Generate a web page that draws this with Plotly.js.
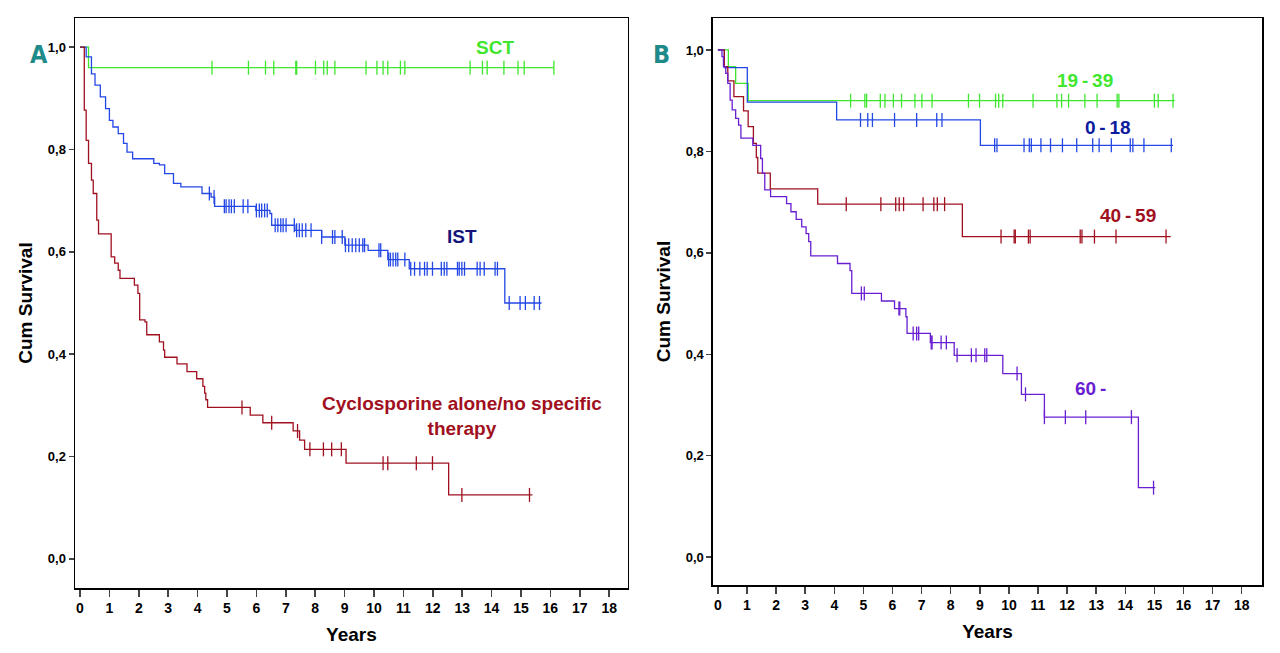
<!DOCTYPE html>
<html>
<head>
<meta charset="utf-8">
<script src="https://cdn.plot.ly/plotly-3.0.1.min.js"></script>
<style>body{margin:0;background:#fff}#plot{width:1280px;height:653px}</style>
</head>
<body>
<div id="plot"></div>
<script>
// Panel A: step curves (years, survival) and censor times
const sctX = [0, 0.29, 16.12];
const sctY = [1.0, 0.96, 0.96];
const sctCens = [4.49, 5.73, 6.31, 6.59, 7.34, 7.37, 8.01, 8.29, 8.41, 8.67, 9.73, 10.1, 10.31, 10.47, 10.9, 11.05, 13.27, 13.69, 13.85, 14.42, 14.9, 15.11, 16.12];

const istX = [0, 0.21, 0.39, 0.51, 0.69, 0.87, 1.0, 1.12, 1.3, 1.48, 1.6, 1.79, 2.51, 2.7, 2.88, 3.18, 3.43, 4.15, 4.46, 4.58, 5.98, 6.46, 6.52, 7.31, 8.22, 9.01, 9.8, 10.47, 11.2, 14.45, 15.7];
const istY = [1.0, 0.981, 0.948, 0.926, 0.903, 0.88, 0.857, 0.844, 0.831, 0.812, 0.795, 0.782, 0.773, 0.77, 0.753, 0.734, 0.727, 0.714, 0.707, 0.689, 0.681, 0.675, 0.652, 0.642, 0.629, 0.613, 0.603, 0.585, 0.567, 0.5, 0.5];
const istCens = [4.4, 4.56, 4.91, 4.97, 5.07, 5.15, 5.25, 5.55, 5.71, 6.0, 6.1, 6.18, 6.28, 6.37, 6.64, 6.73, 6.83, 6.91, 7.01, 7.29, 7.37, 7.46, 7.56, 7.68, 7.86, 8.22, 8.59, 8.67, 8.92, 9.03, 9.14, 9.26, 9.38, 9.5, 9.62, 9.68, 10.17, 10.23, 10.5, 10.56, 10.65, 10.74, 10.81, 11.05, 11.25, 11.38, 11.56, 11.72, 11.81, 11.99, 12.29, 12.39, 12.48, 12.84, 12.9, 12.99, 13.08, 13.51, 13.61, 13.75, 14.12, 14.2, 14.6, 14.97, 15.15, 15.45, 15.63];

const csaX = [0, 0.146, 0.21, 0.29, 0.39, 0.45, 0.57, 0.63, 1.06, 1.18, 1.3, 1.36, 1.85, 1.97, 2.03, 2.21, 2.27, 2.7, 2.84, 2.88, 3.3, 3.64, 3.97, 4.18, 4.24, 4.28, 4.34, 5.79, 6.22, 7.25, 7.47, 7.64, 9.05, 12.54, 15.39];
const csaY = [1.0, 0.877, 0.818, 0.773, 0.74, 0.714, 0.662, 0.635, 0.59, 0.578, 0.564, 0.548, 0.535, 0.519, 0.467, 0.463, 0.438, 0.424, 0.408, 0.394, 0.381, 0.366, 0.352, 0.337, 0.324, 0.311, 0.296, 0.281, 0.266, 0.25, 0.232, 0.214, 0.187, 0.125, 0.125];
const csaCens = [5.51, 6.52, 7.4, 7.82, 8.28, 8.56, 8.89, 10.31, 10.47, 11.44, 11.99, 12.99, 15.29];

// Panel B: age groups
const g1939X = [0, 0.36, 0.61, 1.04, 15.7];
const g1939Y = [1.0, 0.967, 0.934, 0.9, 0.9];
const g1939Cens = [4.56, 5.05, 5.11, 5.58, 5.74, 6.03, 6.31, 6.77, 7.01, 7.36, 8.61, 8.99, 9.54, 9.65, 9.79, 10.83, 11.65, 11.81, 12.05, 12.61, 13.03, 13.72, 13.78, 15.0, 15.13, 15.64];

const g018X = [0, 0.22, 1.01, 4.08, 9.02, 15.64];
const g018Y = [1.0, 0.965, 0.897, 0.862, 0.812, 0.812];
const g018Cens = [4.9, 5.15, 5.31, 6.07, 6.83, 7.52, 7.7, 9.51, 9.59, 10.52, 10.7, 10.77, 11.1, 11.43, 11.84, 12.33, 12.88, 13.1, 13.52, 14.17, 14.26, 14.64, 15.58];

const g4059X = [0, 0.22, 0.34, 0.55, 0.88, 1.04, 1.22, 1.32, 1.37, 1.8, 3.43, 8.4, 15.56];
const g4059Y = [1.0, 0.967, 0.939, 0.908, 0.88, 0.849, 0.816, 0.788, 0.757, 0.726, 0.696, 0.632, 0.632];
const g4059Cens = [4.41, 5.6, 6.11, 6.23, 6.38, 7.05, 7.42, 7.54, 7.79, 9.73, 10.18, 10.22, 10.67, 10.73, 12.45, 12.51, 12.94, 13.68, 15.4];

const g60X = [0, 0.14, 0.19, 0.27, 0.34, 0.42, 0.49, 0.61, 0.71, 0.79, 1.2, 1.47, 1.53, 1.61, 1.81, 2.36, 2.51, 2.69, 2.88, 3.03, 3.12, 3.19, 4.11, 4.54, 4.6, 5.62, 6.07, 6.46, 6.5, 7.3, 8.12, 9.79, 10.43, 11.22, 14.45, 15.03];
const g60Y = [1.0, 0.987, 0.967, 0.954, 0.934, 0.901, 0.882, 0.865, 0.852, 0.826, 0.812, 0.786, 0.757, 0.724, 0.711, 0.697, 0.681, 0.666, 0.651, 0.638, 0.622, 0.594, 0.579, 0.565, 0.52, 0.505, 0.49, 0.474, 0.441, 0.423, 0.398, 0.362, 0.321, 0.276, 0.137, 0.137];
const g60Cens = [4.93, 5.03, 6.22, 6.25, 6.71, 6.83, 6.9, 7.33, 7.36, 7.67, 7.85, 8.22, 8.71, 8.87, 9.17, 9.24, 10.28, 10.57, 11.22, 11.94, 12.64, 14.21, 14.97];

const colGreen = '#3ee62e', colBlue = '#2448e6', colRed = '#a01020', colPurple = '#6a1ed2';

function stepAt(xs, ys, t) {
    let v = ys[0];
    for (let i = 0; i < xs.length; i++) { if (xs[i] <= t) v = ys[i]; }
    return v;
}

function curve(xs, ys, cens, color, ax) {
    let line = {
        type: 'scatter', mode: 'lines', x: xs, y: ys,
        line: {shape: 'hv', color: color, width: 1.3},
        xaxis: 'x' + ax, yaxis: 'y' + ax, hoverinfo: 'skip'
    };
    let marks = {
        type: 'scatter', mode: 'markers', x: cens, y: cens.map(t => stepAt(xs, ys, t)),
        marker: {symbol: 'line-ns', size: 10, line: {color: color, width: 1.3}},
        xaxis: 'x' + ax, yaxis: 'y' + ax, hoverinfo: 'skip'
    };
    return [line, marks];
}

let traces = [].concat(
    curve(sctX, sctY, sctCens, colGreen, ''),
    curve(istX, istY, istCens, colBlue, ''),
    curve(csaX, csaY, csaCens, colRed, ''),
    curve(g1939X, g1939Y, g1939Cens, colGreen, '2'),
    curve(g018X, g018Y, g018Cens, colBlue, '2'),
    curve(g4059X, g4059Y, g4059Cens, colRed, '2'),
    curve(g60X, g60Y, g60Cens, colPurple, '2')
);

const tickFont = {family: 'Liberation Sans, Arial', size: 13, color: '#000'};
const titleFont = {family: 'Liberation Sans, Arial', size: 19, color: '#000', weight: 'bold'};

function xax(domain, range) {
    return {
        domain: domain, range: range, tickvals: [...Array(19).keys()],
        ticks: 'outside', ticklen: 7, tickwidth: 1.5, showline: true, mirror: true,
        linecolor: '#000', linewidth: 1.5, showgrid: false, zeroline: false,
        tickfont: Object.assign({}, tickFont, {size: 14, weight: 'bold'}),
        title: {text: 'Years', font: titleFont, standoff: 12}
    };
}
function yax(domain, range, anchor) {
    return {
        domain: domain, range: range, anchor: anchor, tickvals: [0, 0.2, 0.4, 0.6, 0.8, 1.0],
        tickformat: '.1f', ticks: 'outside', ticklen: 5, tickwidth: 1.5, showline: true, mirror: true,
        linecolor: '#000', linewidth: 1.5, showgrid: false, zeroline: false,
        tickfont: Object.assign({}, tickFont, {weight: 'bold'}),
        title: {text: 'Cum Survival', font: titleFont, standoff: 10}
    };
}

function label(text, x, y, ref, color, size) {
    return {text: text, x: x, y: y, xref: ref[0], yref: ref[1], showarrow: false,
        font: {family: 'Liberation Sans, Arial', size: size || 19, color: color, weight: 'bold'}};
}

let layout = {
    width: 1280, height: 653, showlegend: false,
    margin: {l: 0, r: 0, t: 0, b: 0},
    paper_bgcolor: '#fff', plot_bgcolor: '#fff',
    separators: ',.',
    xaxis: Object.assign(xax([0.0586, 0.4906], [-0.17, 18.64]), {anchor: 'y'}),
    yaxis: yax([0.0995, 0.9724], [-0.057, 1.057], 'x'),
    xaxis2: Object.assign(xax([0.557, 0.986], [-0.17, 18.7]), {anchor: 'y2'}),
    yaxis2: yax([0.1041, 0.9724], [-0.055, 1.063], 'x2'),
    annotations: [
        label('SCT', 14.1, 1.0, ['x', 'y'], colGreen),
        label('IST', 13.0, 0.63, ['x', 'y'], '#14147a'),
        label('Cyclosporine alone/no specific<br>therapy', 13.0, 0.28, ['x', 'y'], colRed),
        label('19\u2009-\u200939', 12.6, 0.94, ['x2', 'y2'], colGreen),
        label('0\u2009-\u200918', 13.4, 0.848, ['x2', 'y2'], '#0c1a9e'),
        label('40\u2009-\u200959', 14.1, 0.673, ['x2', 'y2'], colRed),
        label('60\u2009-', 12.8, 0.332, ['x2', 'y2'], colPurple),
        {text: 'A', x: 28 / 1280, y: 1 - 38 / 653, xref: 'paper', yref: 'paper', showarrow: false,
         font: {family: 'DejaVu Sans Condensed', size: 25, color: '#1f8a8a', weight: 'bold'}},
        {text: 'B', x: 661 / 1280, y: 1 - 38 / 653, xref: 'paper', yref: 'paper', showarrow: false,
         font: {family: 'DejaVu Sans Condensed', size: 25, color: '#1f8a8a', weight: 'bold'}}
    ]
};

Plotly.newPlot('plot', traces, layout, {staticPlot: true});
</script>
</body>
</html>
